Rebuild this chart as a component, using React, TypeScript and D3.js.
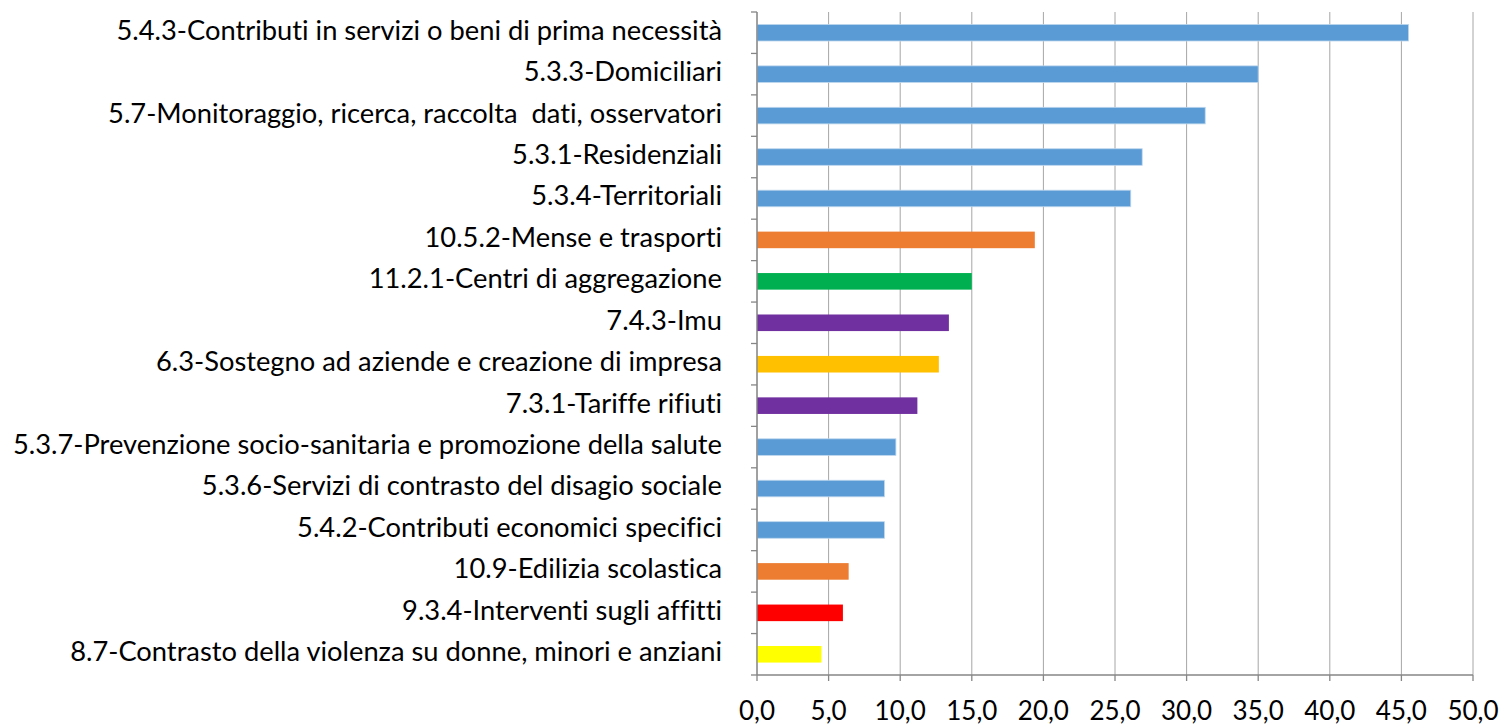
import React from "react";
import * as d3 from "d3";

const categories = [
  "5.4.3-Contributi in servizi o beni di prima necessità",
  "5.3.3-Domiciliari",
  "5.7-Monitoraggio, ricerca, raccolta  dati, osservatori",
  "5.3.1-Residenziali",
  "5.3.4-Territoriali",
  "10.5.2-Mense e trasporti",
  "11.2.1-Centri di aggregazione",
  "7.4.3-Imu",
  "6.3-Sostegno ad aziende e creazione di impresa",
  "7.3.1-Tariffe rifiuti",
  "5.3.7-Prevenzione socio-sanitaria e promozione della salute",
  "5.3.6-Servizi di contrasto del disagio sociale",
  "5.4.2-Contributi economici specifici",
  "10.9-Edilizia scolastica",
  "9.3.4-Interventi sugli affitti",
  "8.7-Contrasto della violenza su donne, minori e anziani",
];

const values = [45.5, 35.0, 31.3, 26.9, 26.1, 19.4, 15.0, 13.4, 12.7, 11.2, 9.7, 8.9, 8.9, 6.4, 6.0, 4.5];

const barColors = [
  "#5B9BD5", "#5B9BD5", "#5B9BD5", "#5B9BD5", "#5B9BD5",
  "#ED7D31", "#00B050", "#7030A0", "#FFC000", "#7030A0",
  "#5B9BD5", "#5B9BD5", "#5B9BD5", "#ED7D31", "#FF0000", "#FFFF00",
];

const xTicks = [0, 5, 10, 15, 20, 25, 30, 35, 40, 45, 50];

const W = 1503;
const H = 727;
const left = 757;
const right = 1473;
const top = 12;
const bottom = 675;
const FONT = "Lato, 'Open Sans', sans-serif";

export default function App() {
  const x = d3.scaleLinear().domain([0, 50]).range([left, right]);
  const y = d3
    .scaleBand<string>()
    .domain(categories)
    .range([top, bottom])
    .paddingInner(0.6)
    .paddingOuter(0.3);
  const band = d3.scaleBand<string>().domain(categories).range([top, bottom]);
  const fmt = (v: number) => d3.format(".1f")(v).replace(".", ",");

  return (
    <svg
      width={W}
      height={H}
      style={{ position: "absolute", left: 0, top: 0, background: "#fff", fontVariantLigatures: "none" }}
    >
      {xTicks.map((t) => (
        <line
          key={"g" + t}
          x1={x(t)}
          x2={x(t)}
          y1={top}
          y2={bottom}
          stroke="#A6A6A6"
          strokeWidth={1}
        />
      ))}
      {categories.map((c, i) => (
        <rect
          key={c}
          x={x(0)}
          y={y(c)}
          width={x(values[i]) - x(0)}
          height={y.bandwidth()}
          fill={barColors[i]}
          stroke={barColors[i] === "#5B9BD5" ? "#BDD7EE" : "none"}
          strokeWidth={0.8}
        />
      ))}
      <line x1={left} x2={left} y1={top} y2={bottom} stroke="#868686" strokeWidth={1.3} />
      {categories.map((c) => (
        <line
          key={"yt" + c}
          x1={left - 6}
          x2={left}
          y1={band(c)}
          y2={band(c)}
          stroke="#868686"
          strokeWidth={1.3}
        />
      ))}
      <line x1={left - 6} x2={left} y1={bottom} y2={bottom} stroke="#868686" strokeWidth={1.3} />
      <line x1={left} x2={right} y1={bottom} y2={bottom} stroke="#868686" strokeWidth={1.3} />
      {xTicks.map((t) => (
        <line
          key={"xt" + t}
          x1={x(t)}
          x2={x(t)}
          y1={bottom}
          y2={bottom + 6}
          stroke="#868686"
          strokeWidth={1.3}
        />
      ))}
      {xTicks.map((t) => (
        <text
          key={"xl" + t}
          x={x(t)}
          y={713}
          textAnchor="middle"
          dominantBaseline="middle"
          fontFamily={FONT}
          fontSize={26}
          fill="#000"
        >
          {fmt(t)}
        </text>
      ))}
      {categories.map((c) => (
        <text
          key={"l" + c}
          x={722}
          y={(y(c) as number) + y.bandwidth() / 2}
          textAnchor="end"
          dominantBaseline="middle"
          fontFamily={FONT}
          fontSize={27.3}
          fill="#000"
          style={{ whiteSpace: "pre", fontVariantLigatures: "none" }}
        >
          {c}
        </text>
      ))}
    </svg>
  );
}
